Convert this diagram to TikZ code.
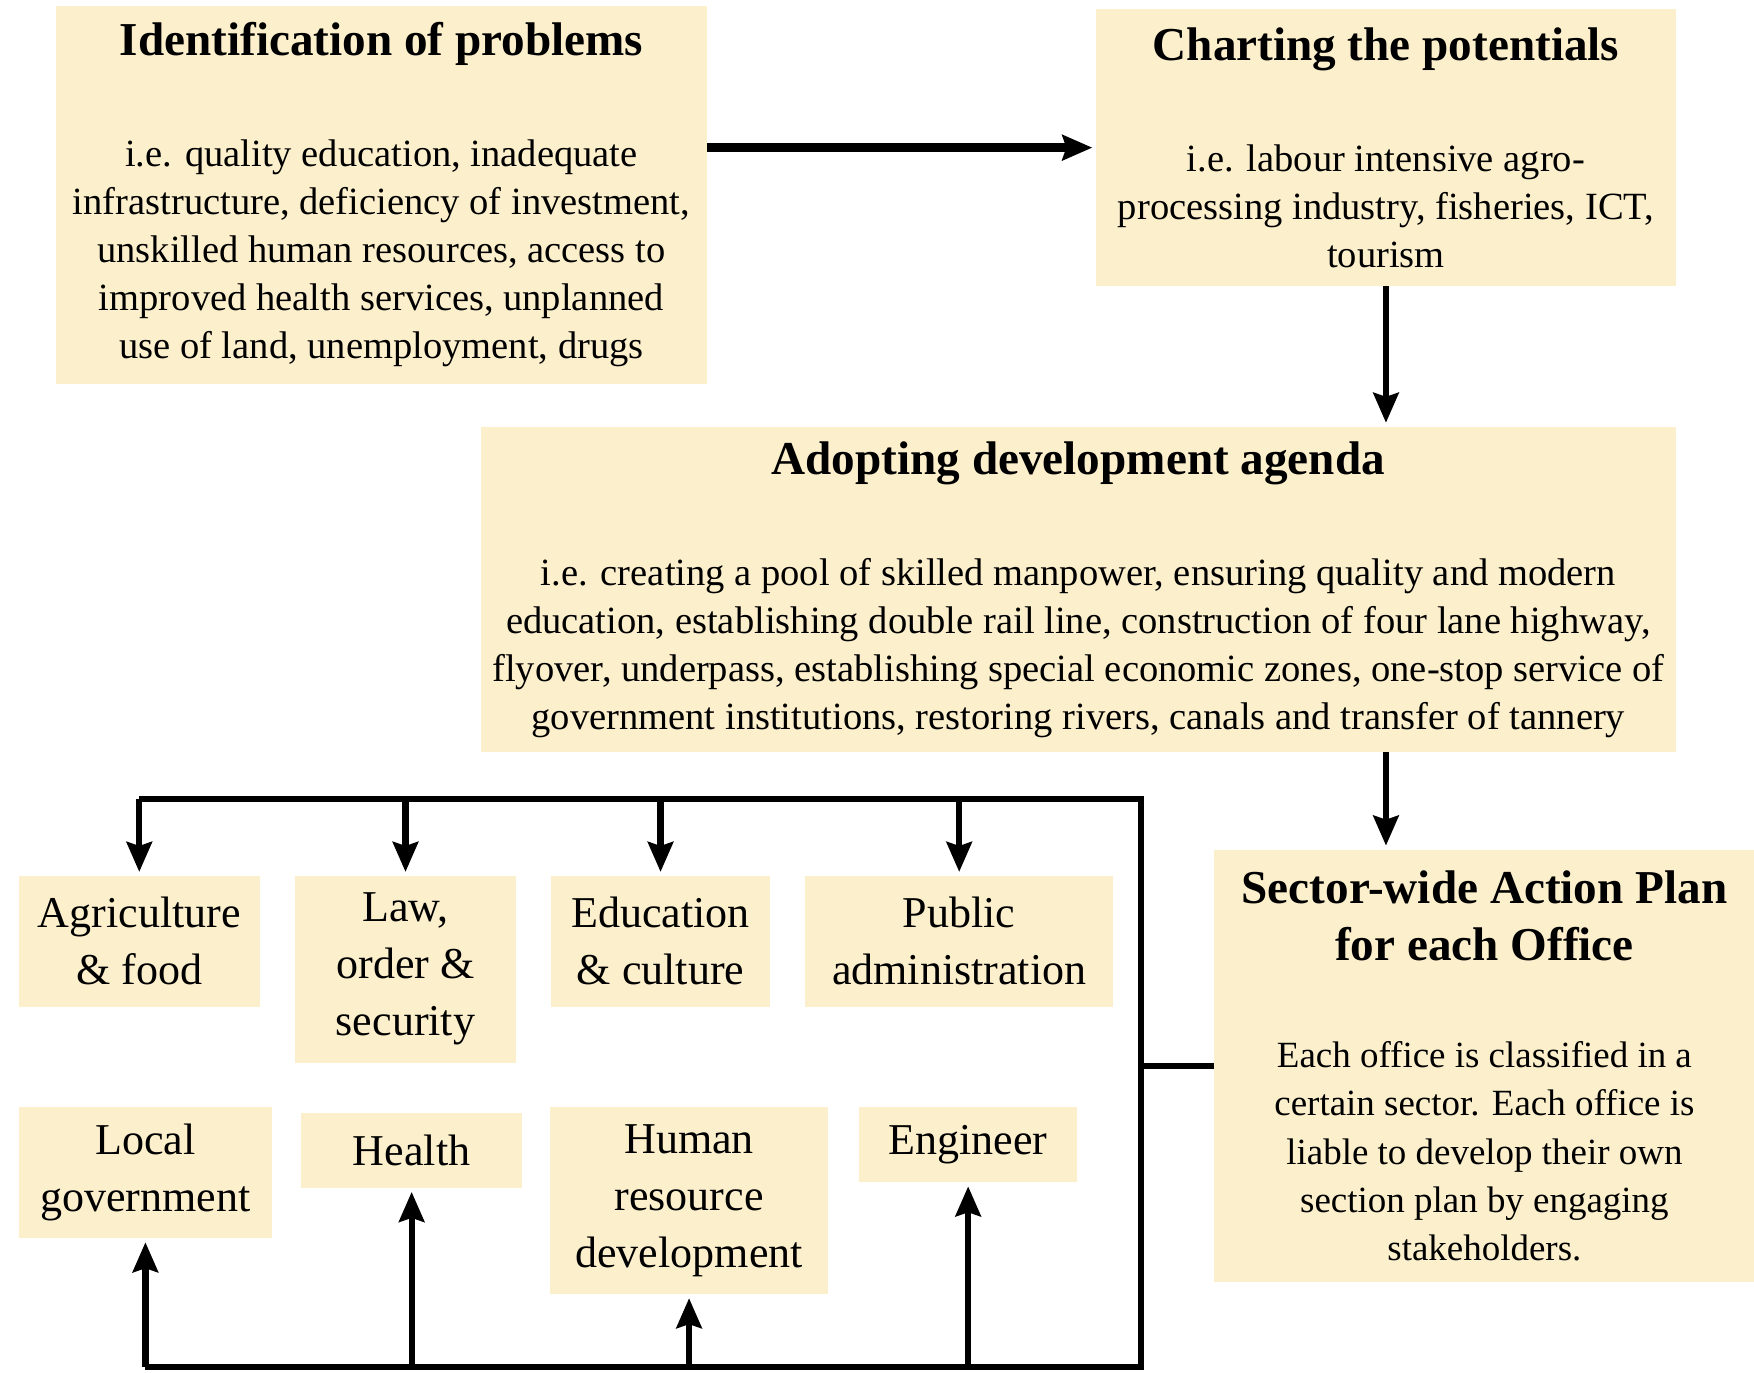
\documentclass[tikz,border=0pt]{standalone}
\usepackage{fontspec}
\setmainfont{Liberation Serif}
\usetikzlibrary{arrows.meta,positioning}
\definecolor{boxfill}{RGB}{252,239,204}
\newcommand{\tfont}{\fontsize{12}{14}\selectfont\bfseries}
\newcommand{\titled}[2]{{\tfont #1}\\[16pt]#2}

\begin{document}
\begin{tikzpicture}[x=0.1mm,y=-0.1mm,>={Stealth[length=7.6pt,width=6.4pt,inset=1pt]},shorten >=1pt,line width=1.6pt,
  node distance=3.2mm,
  stage/.style={fill=boxfill,inner sep=0pt,outer sep=0pt,align=center,font=\fontsize{9.8}{12.2}\selectfont},
  sector/.style={fill=boxfill,inner sep=0pt,outer sep=0pt,align=center,minimum height=11.7mm,font=\fontsize{11.2}{14.5}\selectfont}]
\useasboundingbox (0,0) rectangle (1568,1227);

\node[stage,minimum width=58.2mm,minimum height=33.8mm] (ident) at (341,174)
  {\titled{Identification of problems}{i.e. quality education, inadequate\\
   infrastructure, deficiency of investment,\\ unskilled human resources, access to\\
   improved health services, unplanned\\ use of land, unemployment, drugs}};
\node[stage,minimum width=51.8mm,minimum height=24.8mm] (chart) at (1239,132)
  {\titled{Charting the potentials}{i.e. labour intensive agro-\\
   processing industry, fisheries, ICT,\\ tourism}};
\node[stage,minimum width=106.8mm,minimum height=29.1mm] (adopt) at (964,527)
  {\titled{Adopting development agenda}{i.e. creating a pool of skilled manpower, ensuring quality and modern\\
   education, establishing double rail line, construction of four lane highway,\\
   flyover, underpass, establishing special economic zones, one-stop service of\\
   government institutions, restoring rivers, canals and transfer of tannery}};
\node[stage,minimum width=48.4mm,minimum height=38.7mm,font=\fontsize{9.4}{12.3}\selectfont] (plan) at (1327,953)
  {{\tfont Sector-wide Action Plan}\\[2.2pt]{\tfont for each Office}\\[14.9pt]
   Each office is classified in a\\ certain sector. Each office is\\ liable to develop their own\\
   section plan by engaging\\ stakeholders.};

% sectors, top row
\node[sector,minimum width=21.5mm] (agri) at (124.5,841.5) {Agriculture\\ \& food};
\node[sector,minimum width=19.7mm,minimum height=16.7mm] (law) [right=of agri.north east,anchor=north west] {Law,\\ order \&\\ security};
\node[sector,minimum width=19.5mm] (edu) [right=of law.north east,anchor=north west] {Education\\ \& culture};
\node[sector,minimum width=27.5mm] (pub) [right=of edu.north east,anchor=north west] {Public\\ administration};
% sectors, bottom row
\node[sector,minimum width=22.6mm] (local) [below=9mm of agri.south west,anchor=north west] {Local\\ government};
\node[sector,minimum width=19.8mm,minimum height=6.7mm] (health) [right=2.6mm of local.north east,anchor=north west,yshift=-0.5mm] {Health};
\node[sector,minimum width=24.8mm,minimum height=16.7mm] (hrd) [right=2.5mm of health.north east,anchor=north west,yshift=0.5mm] {Human\\ resource\\ development};
\node[sector,minimum width=19.5mm,minimum height=6.7mm] (eng) [right=2.8mm of hrd.north east,anchor=north west] {Engineer};

\coordinate (bustl) at (agri.north |- 0,714);
\coordinate (bustr) at (1020,714);
\coordinate (busbr) at (1020,1222);
\coordinate (busbl) at (local.south |- 0,1222);

\draw[->,line width=2.4pt] (ident.east |- chart.west) -- (chart.west);
\draw[->] (chart.south) -- (chart.south |- adopt.north);
\draw[->] (chart.south |- adopt.south) -- (chart.south |- plan.north);
\draw[shorten >=0pt] (bustl) -- (bustr) -- (busbr) -- (busbl);
\draw[shorten >=0pt] (plan.west) -- (plan.west -| bustr);
\foreach \s in {agri,law,edu,pub}
  \draw[->] (\s.north |- bustl) -- (\s.north);
\foreach \s in {local,health,hrd,eng}
  \draw[->] (\s.south |- busbl) -- (\s.south);
\end{tikzpicture}
\end{document}
